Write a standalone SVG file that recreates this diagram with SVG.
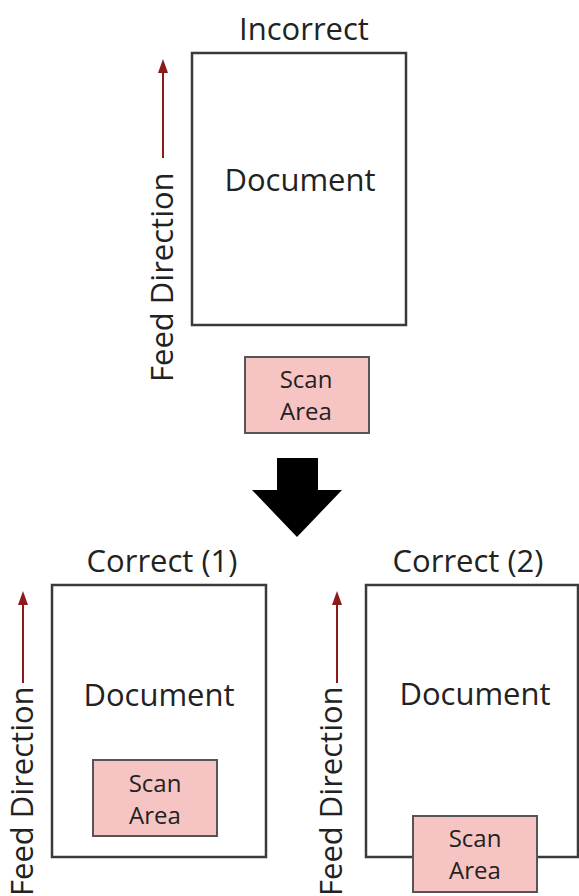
<svg xmlns="http://www.w3.org/2000/svg" width="579" height="896" viewBox="0 0 579 896">
<style>
.t{font-family:"Open Sans","Liberation Sans",sans-serif;font-size:31px;fill:#222;text-anchor:middle}
.s{font-family:"Open Sans","Liberation Sans",sans-serif;font-size:24px;fill:#222;text-anchor:middle}
.doc{fill:#fff;stroke:#3a3a3a;stroke-width:2.5}
.scan{fill:#f7c4c4;stroke:#555;stroke-width:2}
.feed{stroke:#8b1a1a;stroke-width:2;fill:none}
</style>
<defs>
<marker id="ah" viewBox="0 0 14 10" refX="0" refY="5" markerWidth="14" markerHeight="10" markerUnits="userSpaceOnUse" orient="auto">
<path d="M0,0 L14,5 L0,10 Z" fill="#8b1a1a"/>
</marker>
</defs>
<g id="incorrect">
<text class="t" x="304" y="40">Incorrect</text>
<rect class="doc" x="192" y="53" width="214" height="272"/>
<text class="t" x="300" y="191">Document</text>
<rect class="scan" x="245" y="357" width="124" height="76"/>
<text class="s" x="306" y="388">Scan</text>
<text class="s" x="306" y="420">Area</text>
<text class="t" transform="translate(173,382) rotate(-90)" style="text-anchor:start">Feed Direction</text>
</g>
<g id="correct1">
<text class="t" x="162" y="572">Correct (1)</text>
<rect class="doc" x="52" y="585" width="214" height="272"/>
<text class="t" x="159" y="706">Document</text>
<rect class="scan" x="93" y="760" width="124" height="76"/>
<text class="s" x="155" y="792">Scan</text>
<text class="s" x="155" y="824">Area</text>
<text class="t" transform="translate(33,896) rotate(-90)" style="text-anchor:start">Feed Direction</text>
</g>
<g id="correct2">
<text class="t" x="468" y="572">Correct (2)</text>
<rect class="doc" x="366" y="585" width="212" height="272"/>
<text class="t" x="475" y="705">Document</text>
<rect class="scan" x="413" y="816" width="124" height="76"/>
<text class="s" x="475" y="847">Scan</text>
<text class="s" x="475" y="879">Area</text>
<text class="t" transform="translate(342,896) rotate(-90)" style="text-anchor:start">Feed Direction</text>
</g>
<g id="connectors">
<line class="feed" x1="163" y1="158" x2="163" y2="73" marker-end="url(#ah)"/>
<line class="feed" x1="23" y1="683" x2="23" y2="605" marker-end="url(#ah)"/>
<line class="feed" x1="337" y1="683" x2="337" y2="605" marker-end="url(#ah)"/>
<path d="M277,458 L318,458 L318,490 L342,490 L297,537 L252,490 L277,490 Z" fill="#000"/>
</g>
</svg>
